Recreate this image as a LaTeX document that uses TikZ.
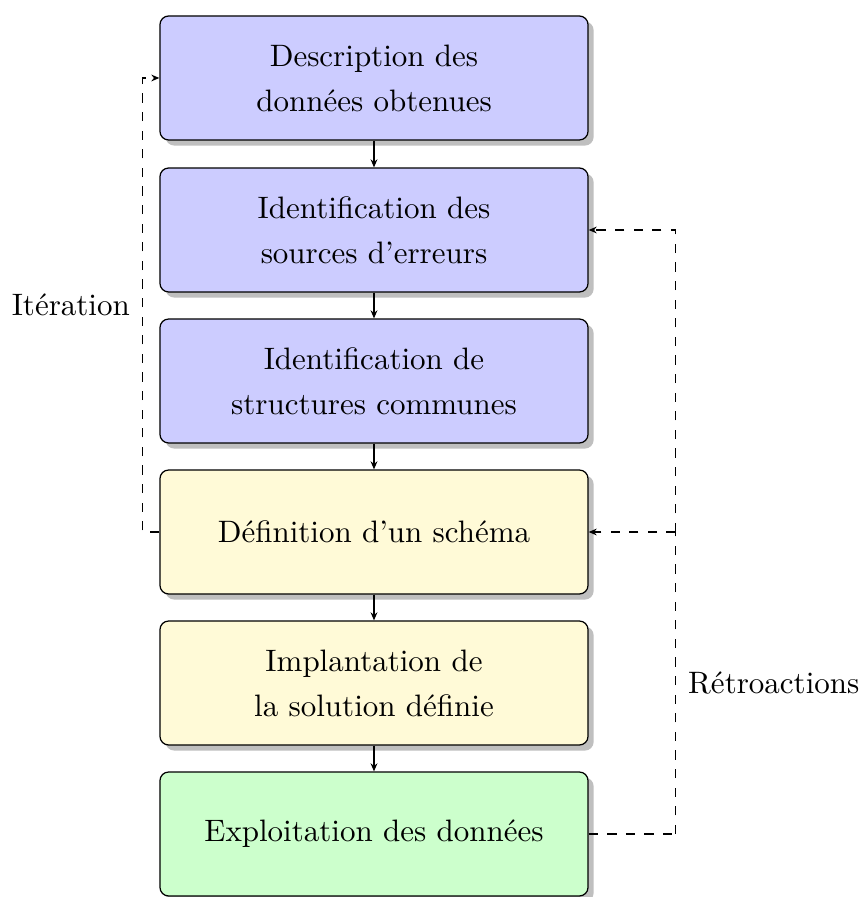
\documentclass[tikz,border=0pt]{standalone}
\usetikzlibrary{shadows,arrows.meta}
\definecolor{stageblue}{RGB}{204,204,255}
\definecolor{stageyellow}{RGB}{255,250,215}
\definecolor{stagegreen}{RGB}{204,255,204}
\begin{document}
\begin{tikzpicture}[
  x=0.3226pt, y=-0.3226pt,
  stagebox/.style={draw=black, rounded corners=2.8pt, thin,
    minimum width=138.1pt, minimum height=40pt, inner sep=0pt,
    align=center, font=\fontsize{10}{14.5}\selectfont,
    drop shadow={shadow xshift=1.8pt, shadow yshift=-1.8pt, fill=black!25, opacity=1}},
  flow/.style={thin, -{Stealth[length=2.6pt,width=2.2pt]}},
  feedback/.style={thin, dashed},
  lbl/.style={font=\fontsize{10}{12}\selectfont}
]
\useasboundingbox (0,0) rectangle (860,897);

% the six stages, top to bottom
\node[stagebox, fill=stageblue]   (s1) at (374,78)  {Description des\\données obtenues};
\node[stagebox, fill=stageblue]   (s2) at (374,230) {Identification des\\sources d'erreurs};
\node[stagebox, fill=stageblue]   (s3) at (374,381) {Identification de\\structures communes};
\node[stagebox, fill=stageyellow] (s4) at (374,532) {Définition d'un schéma};
\node[stagebox, fill=stageyellow] (s5) at (374,683) {Implantation de\\la solution définie};
\node[stagebox, fill=stagegreen]  (s6) at (374,834) {Exploitation des données};

% main flow
\draw[flow] (s1) -- (s2);
\draw[flow] (s2) -- (s3);
\draw[flow] (s3) -- (s4);
\draw[flow] (s4) -- (s5);
\draw[flow] (s5) -- (s6);

% iteration loop on the left
\draw[feedback, -{Stealth[length=2.6pt,width=2.2pt]}]
  (s4.west) -- ++(-17,0) coordinate (lt) |- (s1.west);
\path (lt) -- (lt |- s1.west) node[midway, left=0.5pt, lbl] (iter) {Itération};

% feedback loops on the right
\draw[feedback] (s6.east) -- ++(87,0) coordinate (rb);
\coordinate (rm) at (rb |- s4.east);
\draw[feedback] (rb) -- (rm);
\draw[feedback, -{Stealth[length=2.6pt,width=2.2pt]}] (rm) -- (s4.east);
\draw[feedback, -{Stealth[length=2.6pt,width=2.2pt]}] (rm) |- (s2.east);
\path (rb) -- (rm) node[midway, right=0.5pt, lbl] (retro) {Rétroactions};
\end{tikzpicture}
\end{document}
